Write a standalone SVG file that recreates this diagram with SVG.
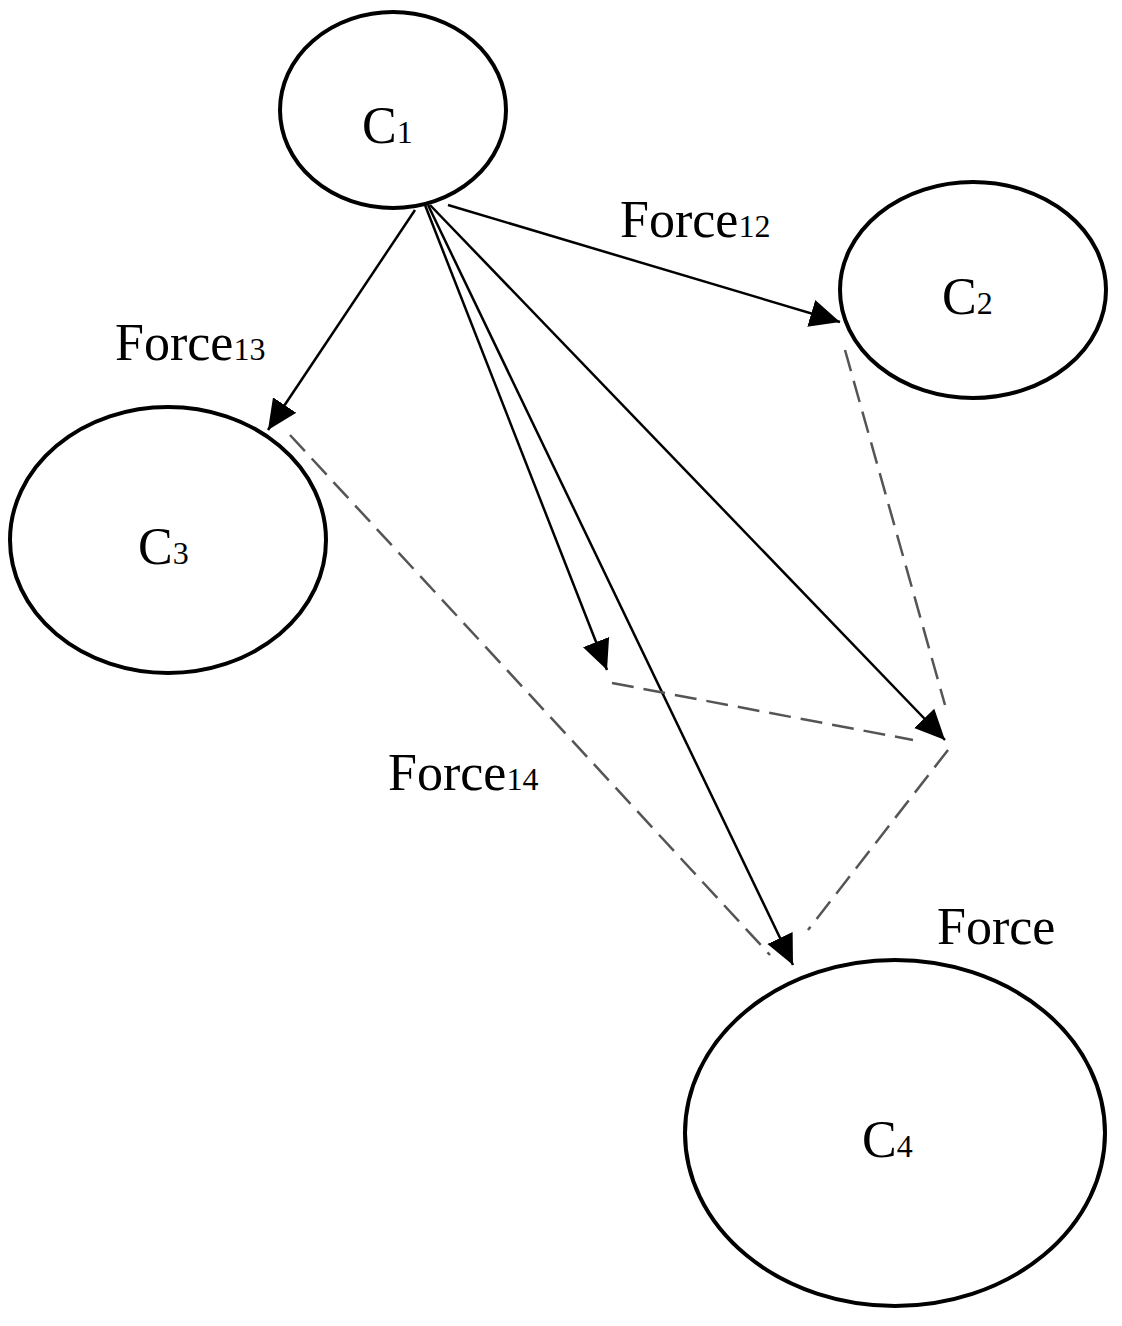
<svg xmlns="http://www.w3.org/2000/svg" width="1122" height="1326" viewBox="0 0 1122 1326">
<style>
.n{fill:none;stroke:#000;stroke-width:4}
.a{stroke:#000;stroke-width:2.5;fill:none}
.d{stroke:#555;stroke-width:2.5;fill:none;stroke-dasharray:22 10}
text{font-family:"Liberation Serif",serif;font-size:52px;fill:#000}
.s{font-size:32px}
</style>
<defs><marker id="ah" viewBox="0 0 10 10" refX="10" refY="5" markerWidth="14" markerHeight="14" markerUnits="userSpaceOnUse" orient="auto" style="overflow:visible"><path d="M-22,-12 L10,5 L-22,22 Z" transform="scale(1)" fill="#000"/></marker>
<marker id="m" viewBox="-30 -15 32 30" refX="0" refY="0" markerWidth="32" markerHeight="30" markerUnits="userSpaceOnUse" orient="auto"><path d="M-30,-14 L0,0 L-30,14 Z" fill="#000"/></marker></defs>
<g id="connectors">
<line class="a" x1="448" y1="205" x2="840" y2="322" marker-end="url(#m)"/>
<line class="a" x1="415" y1="210" x2="268" y2="430" marker-end="url(#m)"/>
<line class="a" x1="425" y1="205" x2="607" y2="670" marker-end="url(#m)"/>
<line class="a" x1="428" y1="205" x2="793" y2="965" marker-end="url(#m)"/>
<line class="a" x1="430" y1="205" x2="945" y2="740" marker-end="url(#m)"/>
<line class="d" x1="845" y1="350" x2="945" y2="705"/>
<line class="d" x1="612" y1="683" x2="913" y2="740"/>
<line class="d" x1="948" y1="750" x2="808" y2="930"/>
<line class="d" x1="290" y1="435" x2="770" y2="955"/>
</g>
<g id="C1"><ellipse class="n" cx="393" cy="110" rx="113" ry="98"/><text x="362" y="143">C<tspan class="s">1</tspan></text></g>
<g id="C2"><ellipse class="n" cx="973" cy="290" rx="133" ry="108"/><text x="942" y="314">C<tspan class="s">2</tspan></text></g>
<g id="C3"><ellipse class="n" cx="168" cy="540" rx="158" ry="133"/><text x="138" y="564">C<tspan class="s">3</tspan></text></g>
<g id="C4"><ellipse class="n" cx="895" cy="1133" rx="210" ry="173"/><text x="862" y="1157">C<tspan class="s">4</tspan></text></g>
<g id="labels">
<text x="620" y="237">Force<tspan class="s">12</tspan></text>
<text x="115" y="360">Force<tspan class="s">13</tspan></text>
<text x="388" y="790">Force<tspan class="s">14</tspan></text>
<text x="937" y="944">Force</text>
</g>
</svg>
